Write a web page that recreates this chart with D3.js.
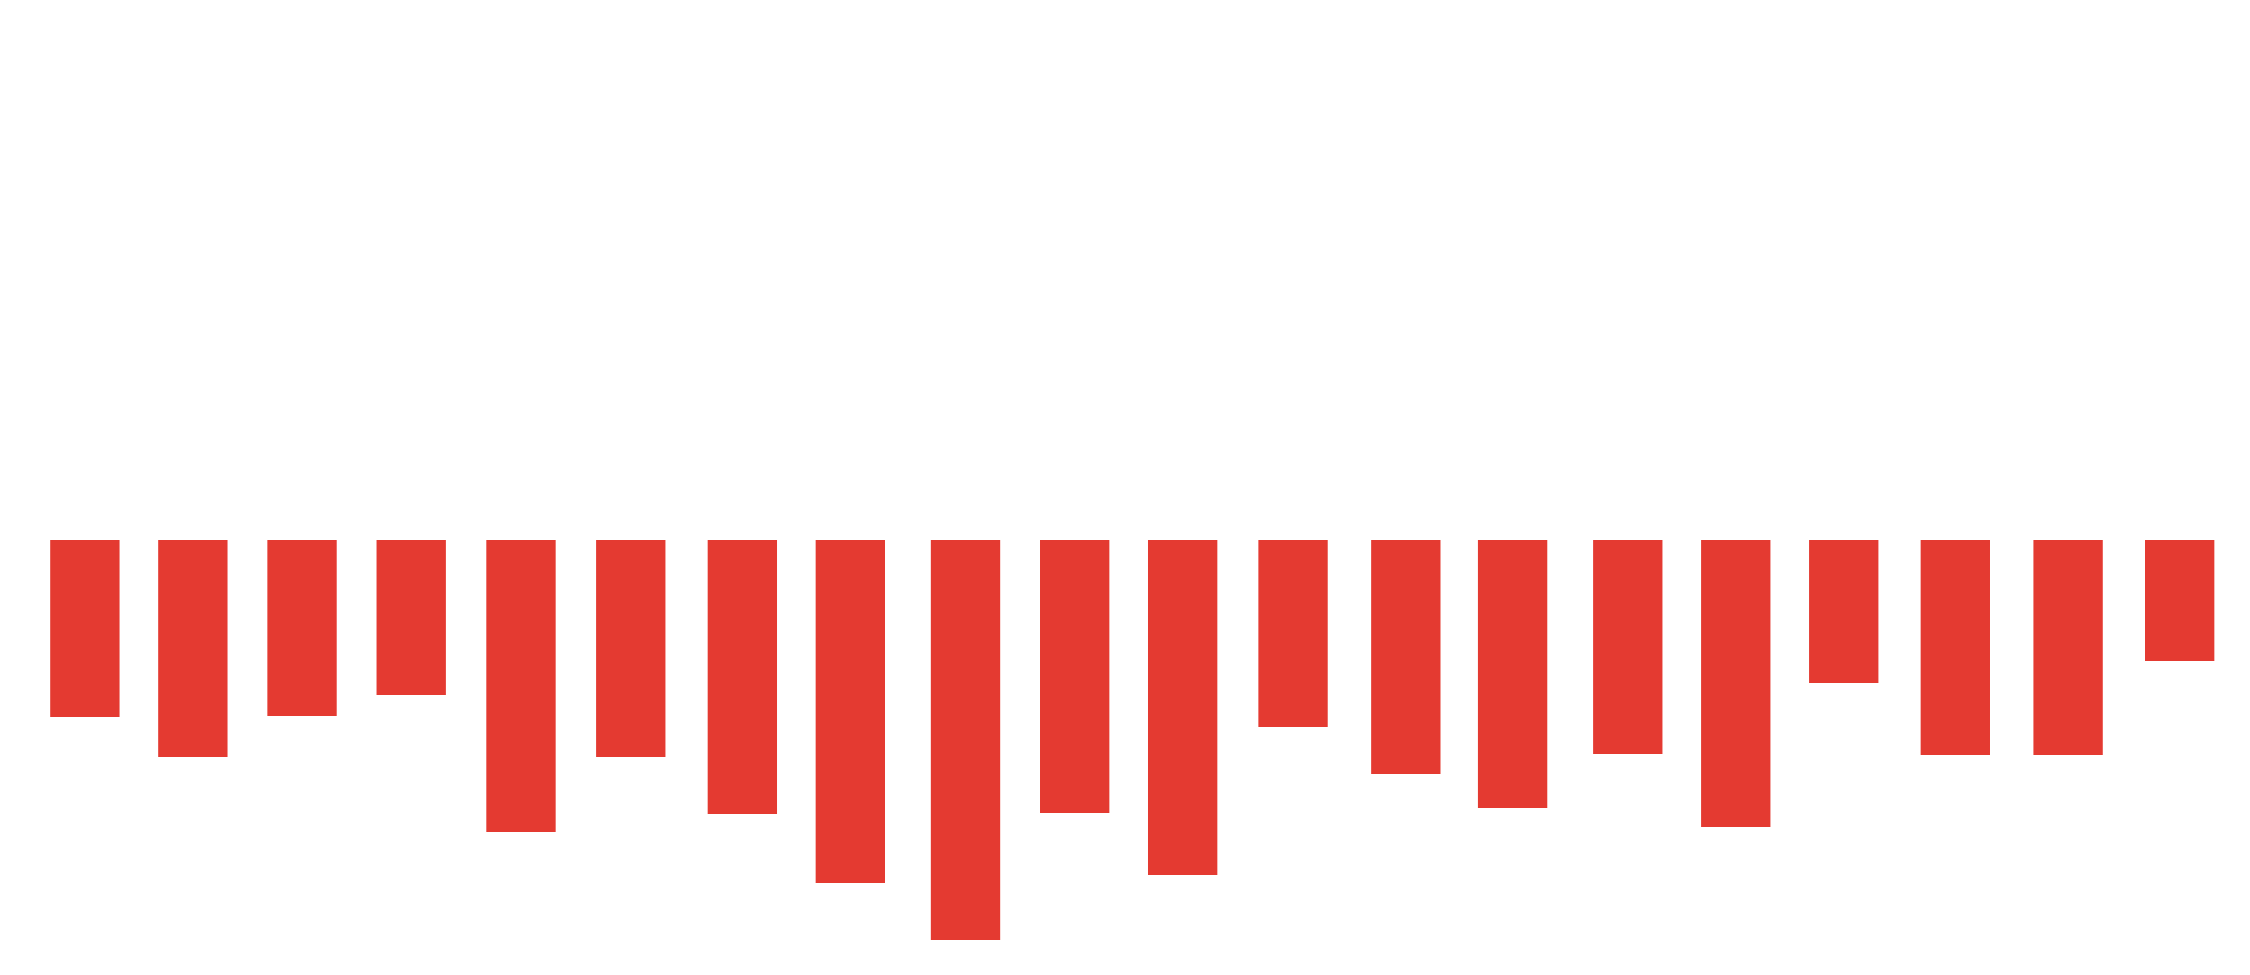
<!DOCTYPE html>
<html>
<head>
<meta charset="utf-8">
<script src="https://cdn.jsdelivr.net/npm/d3@7"></script>
<style>
  html, body { margin: 0; padding: 0; background: #ffffff; }
  svg { display: block; }
</style>
</head>
<body>
<svg id="chart" width="2250" height="975"></svg>
<script>
// Bar start positions along the x-axis (in data units)
const positions = [0, 90, 181, 272, 363.5, 455, 548, 638, 734, 825,
                   915, 1007, 1101, 1190, 1286, 1376, 1466, 1559, 1653, 1746];
const values = [-1.77, -2.17, -1.76, -1.55, -2.92, -2.17, -2.74, -3.43, -4.00, -2.73,
                -3.35, -1.87, -2.34, -2.68, -2.14, -2.87, -1.43, -2.15, -2.15, -1.21];
const barUnits = 57.8; // bar width in data units

const svg = d3.select("#chart");
const x = d3.scaleLinear().domain([0, 1746]).range([50.2, 2145]);
const y = d3.scaleLinear().domain([-4, 4]).range([940, 140]);

svg.append("g").selectAll("rect")
  .data(values)
  .join("rect")
  .attr("x", (d, i) => x(positions[i]))
  .attr("width", (d, i) => x(positions[i] + barUnits) - x(positions[i]))
  .attr("y", d => Math.min(y(0), y(d)))
  .attr("height", d => Math.abs(y(d) - y(0)))
  .attr("fill", "#e43a31");
</script>
</body>
</html>
